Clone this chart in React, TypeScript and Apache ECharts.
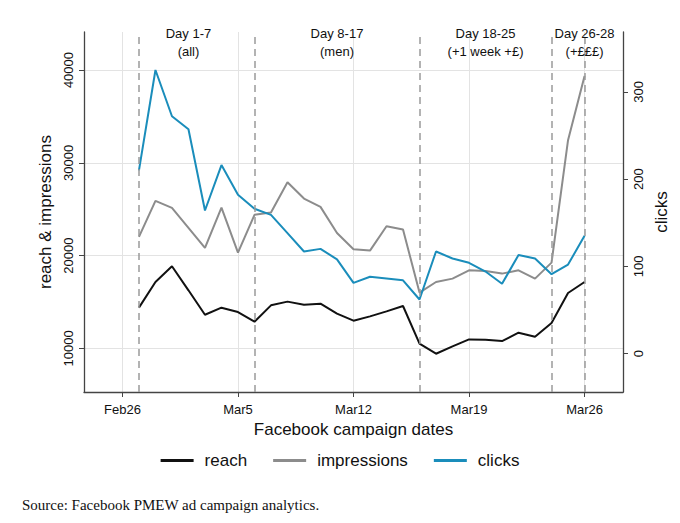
import React, { useEffect, useRef } from "react";
import * as echarts from "echarts";

// campaign days, counted from Feb 26 (day 1 = Feb 27)
const days = [1, 2, 3, 4, 5, 6, 7, 8, 9, 10, 11, 12, 13, 14, 15, 16, 17, 18, 19, 20, 21, 22, 23, 24, 25, 26, 27, 28];

const reach = [14390, 17160, 18850, 16260, 13630, 14390, 13920, 12880, 14640, 15040, 14715, 14820, 13740, 12985, 13450, 13990, 14570, 10505, 9425, 10215, 10970, 10935, 10790, 11690, 11260, 12735, 15970, 17155];
const impressions = [22010, 25900, 25140, 23000, 20825, 25180, 20330, 24400, 24640, 27910, 26150, 25250, 22440, 20680, 20540, 23165, 22805, 16020, 17155, 17520, 18420, 18345, 18060, 18420, 17520, 19245, 32440, 39350];
const clicks = [210, 325, 272, 257, 164, 216, 182, 166, 159, 138, 117, 120, 108, 81, 88, 86, 84, 62, 117, 109, 104, 94, 80, 113, 109, 91, 102, 135];

const xTickDays = [0, 7, 14, 21, 28];
const xTickLabels = ["Feb26", "Mar5", "Mar12", "Mar19", "Mar26"];
const leftTicks = [10000, 20000, 30000, 40000];
const rightTicks = [0, 100, 200, 300];

// phase boundaries (dashed) and phase captions
const phaseLines = [1, 8, 18, 26, 28];
const phaseDays = [4, 13, 22, 28];
const phaseTitles = ["Day 1-7", "Day 8-17", "Day 18-25", "Day 26-28"];
const phaseNotes = ["(all)", "(men)", "(+1 week +£)", "(+£££)"];

const font = "'Liberation Sans', Arial, sans-serif";
const axisColor = "#444";
const textColor = "#111";
const gridColor = "#e3e3e3";

const App: React.FC = () => {
  const chartRef = useRef<HTMLDivElement>(null);

  useEffect(() => {
    const chart = echarts.init(chartRef.current, null, { renderer: "svg" });

    const option: echarts.EChartsOption = {
      animation: false,
      backgroundColor: "#fff",
      textStyle: { fontFamily: font },
      grid: { left: 84, right: 57, top: 32, bottom: 131 },
      legend: {
        bottom: 49,
        left: "center",
        icon: "rect",
        itemWidth: 33,
        itemHeight: 3,
        itemGap: 26,
        textStyle: { fontSize: 17, color: textColor, padding: [0, 0, 0, 6] },
        data: ["reach", "impressions", "clicks"],
      },
      xAxis: {
        type: "value",
        min: -2.33,
        max: 30.33,
        name: "Facebook campaign dates",
        nameLocation: "middle",
        nameGap: 23,
        nameTextStyle: { fontSize: 17, color: textColor },
        axisLine: { onZero: false, lineStyle: { color: axisColor, width: 1.3 } },
        axisTick: { customValues: xTickDays, length: 5, lineStyle: { color: axisColor } },
        axisLabel: {
          customValues: xTickDays,
          formatter: (v: number) => xTickLabels[xTickDays.indexOf(v)] ?? "",
          fontSize: 13,
          color: textColor,
          margin: 11,
        },
        splitLine: { show: true, lineStyle: { color: gridColor, width: 1 } },
      },
      yAxis: [
        {
          type: "value",
          position: "left",
          min: 5300,
          max: 44100,
          name: "reach & impressions",
          nameLocation: "middle",
          nameGap: 23,
          nameRotate: 90,
          nameTextStyle: { fontSize: 17, color: textColor },
          axisLine: { show: true, onZero: false, lineStyle: { color: axisColor, width: 1.3 } },
          axisTick: { show: true, customValues: leftTicks, length: 5, lineStyle: { color: axisColor } },
          axisLabel: {
            customValues: leftTicks,
            formatter: (v: number) => String(v),
            rotate: 90,
            fontSize: 13,
            color: textColor,
            margin: 9,
          },
          splitLine: { show: true, lineStyle: { color: gridColor, width: 1 } },
        },
        {
          type: "value",
          position: "right",
          min: -44,
          max: 368.5,
          name: "clicks",
          nameLocation: "middle",
          nameGap: 23,
          nameRotate: 90,
          nameTextStyle: { fontSize: 17, color: textColor },
          axisLine: { show: true, onZero: false, lineStyle: { color: axisColor, width: 1.3 } },
          axisTick: { show: true, customValues: rightTicks, length: 5, lineStyle: { color: axisColor } },
          axisLabel: {
            customValues: rightTicks,
            formatter: (v: number) => String(v),
            rotate: 90,
            fontSize: 13,
            color: textColor,
            margin: 9,
          },
          splitLine: { show: false },
        },
      ],
      series: [
        {
          name: "reach",
          type: "line",
          yAxisIndex: 0,
          symbol: "none",
          color: "#111111",
          lineStyle: { width: 2 },
          data: days.map((d, i) => [d, reach[i]]),
          markLine: {
            silent: true,
            symbol: ["none", "none"],
            label: { show: false },
            lineStyle: { color: "#9a9a9a", type: [7, 5], width: 1.5 },
            data: phaseLines.map((d) => ({ xAxis: d })),
          },
          markPoint: {
            silent: true,
            symbol: "rect",
            symbolSize: 1,
            itemStyle: { color: "rgba(0,0,0,0)" },
            data: phaseDays.map((d, i) => ({
              coord: [d, 43000],
              label: {
                show: true,
                position: "inside",
                formatter: phaseTitles[i] + "\n" + phaseNotes[i],
                fontSize: 13,
                lineHeight: 18,
                color: textColor,
              },
            })),
          },
        },
        {
          name: "impressions",
          type: "line",
          yAxisIndex: 0,
          symbol: "none",
          color: "#8c8c8c",
          lineStyle: { width: 2 },
          data: days.map((d, i) => [d, impressions[i]]),
        },
        {
          name: "clicks",
          type: "line",
          yAxisIndex: 1,
          symbol: "none",
          color: "#1a8dbb",
          lineStyle: { width: 2 },
          data: days.map((d, i) => [d, clicks[i]]),
        },
      ],
      graphic: [
        {
          type: "text",
          left: 22,
          top: 497,
          style: {
            text: "Source: Facebook PMEW ad campaign analytics.",
            fontFamily: "'Liberation Serif', 'Times New Roman', serif",
            fontSize: 15,
            fill: "#111",
          },
        },
      ],
    };

    chart.setOption(option);
    return () => {
      chart.dispose();
    };
  }, []);

  return (
    <div
      ref={chartRef}
      style={{ position: "absolute", left: 0, top: 0, width: 680, height: 523 }}
    />
  );
};

export default App;
